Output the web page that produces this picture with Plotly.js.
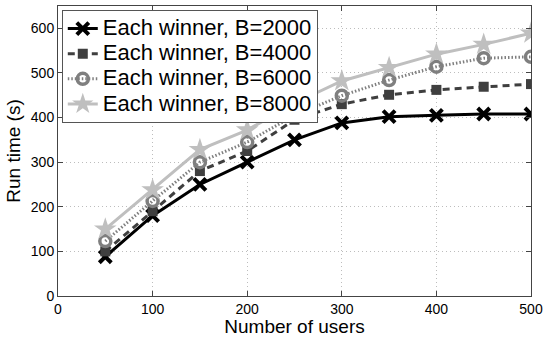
<!DOCTYPE html>
<html><head><meta charset="utf-8">
<script src="https://cdn.plot.ly/plotly-3.0.1.min.js"></script>
<style>html,body{margin:0;padding:0;background:#fff}#chart{width:550px;height:337px}</style>
</head><body><div id="chart"></div>
<script>
const users = [50, 100, 150, 200, 250, 300, 350, 400, 450, 500];
const b2000 = [88, 180, 250, 300, 350, 388, 402, 405, 408, 408];
const b4000 = [100, 190, 280, 325, 395, 430, 451, 462, 469, 475];
const b6000 = [123, 213, 300, 345, 405, 449, 484, 514, 533, 536];
const b8000 = [150, 238, 328, 372, 432, 482, 512, 542, 564, 589];
const names = ['Each winner, B=2000', 'Each winner, B=4000', 'Each winner, B=6000', 'Each winner, B=8000'];
const big = s => '<span style="font-size:22px">' + s + '</span>';

const traces = [
  {x: users, y: b2000, name: big(names[0]), mode: 'lines+markers',
   line: {color: '#000000', width: 3, dash: 'solid'},
   marker: {symbol: 'x-thin-open', size: 12, line: {color: '#000000', width: 4}, color: '#000'}},
  {x: users, y: b4000, name: big(names[1]), mode: 'lines+markers',
   line: {color: '#3f3f3f', width: 3, dash: '7px,5px'},
   marker: {symbol: 'square', size: 10, color: '#3f3f3f'}},
  {x: users, y: b6000, name: big(names[2]), mode: 'lines+markers',
   line: {color: '#7f7f7f', width: 3, dash: '1.5px,2px'},
   marker: {symbol: 'circle-open', size: 11, line: {color: '#7f7f7f', width: 3.5}}},
  {x: users, y: b8000, name: big(names[3]), mode: 'lines+markers',
   line: {color: '#bfbfbf', width: 3, dash: 'solid'},
   marker: {symbol: 'star', size: 17, color: '#bfbfbf'}}
];

const layout = {
  width: 550, height: 337,
  margin: {l: 58, r: 19, t: 6, b: 41},
  paper_bgcolor: '#fff', plot_bgcolor: '#fff',
  font: {family: 'Liberation Sans, Arial, sans-serif', color: '#000'},
  showlegend: true,
  legend: {x: 0.008, y: 0.986, xanchor: 'left', yanchor: 'top',
    bgcolor: '#fff', bordercolor: '#555', borderwidth: 1,
    font: {size: 17, color: '#000'}, tracegroupgap: 0},
  xaxis: {range: [0, 500], tickvals: [0, 100, 200, 300, 400, 500],
    showgrid: true, gridcolor: '#bdbdbd', griddash: '1px,3px', gridwidth: 1,
    zeroline: false, showline: true, linecolor: '#444', linewidth: 1, mirror: 'ticks',
    ticks: 'inside', ticklen: 5, tickcolor: '#444',
    tickfont: {size: 14},
    title: {text: 'Number of users', font: {size: 19}, standoff: 3}},
  yaxis: {range: [0, 650], tickvals: [0, 100, 200, 300, 400, 500, 600],
    showgrid: true, gridcolor: '#bdbdbd', griddash: '1px,3px', gridwidth: 1,
    zeroline: false, showline: true, linecolor: '#444', linewidth: 1, mirror: 'ticks',
    ticks: 'inside', ticklen: 5, tickcolor: '#444',
    tickfont: {size: 14},
    title: {text: 'Run time (s)', font: {size: 19}, standoff: 5}}
};
Plotly.newPlot('chart', traces, layout, {displayModeBar: false, staticPlot: true});
</script></body></html>
